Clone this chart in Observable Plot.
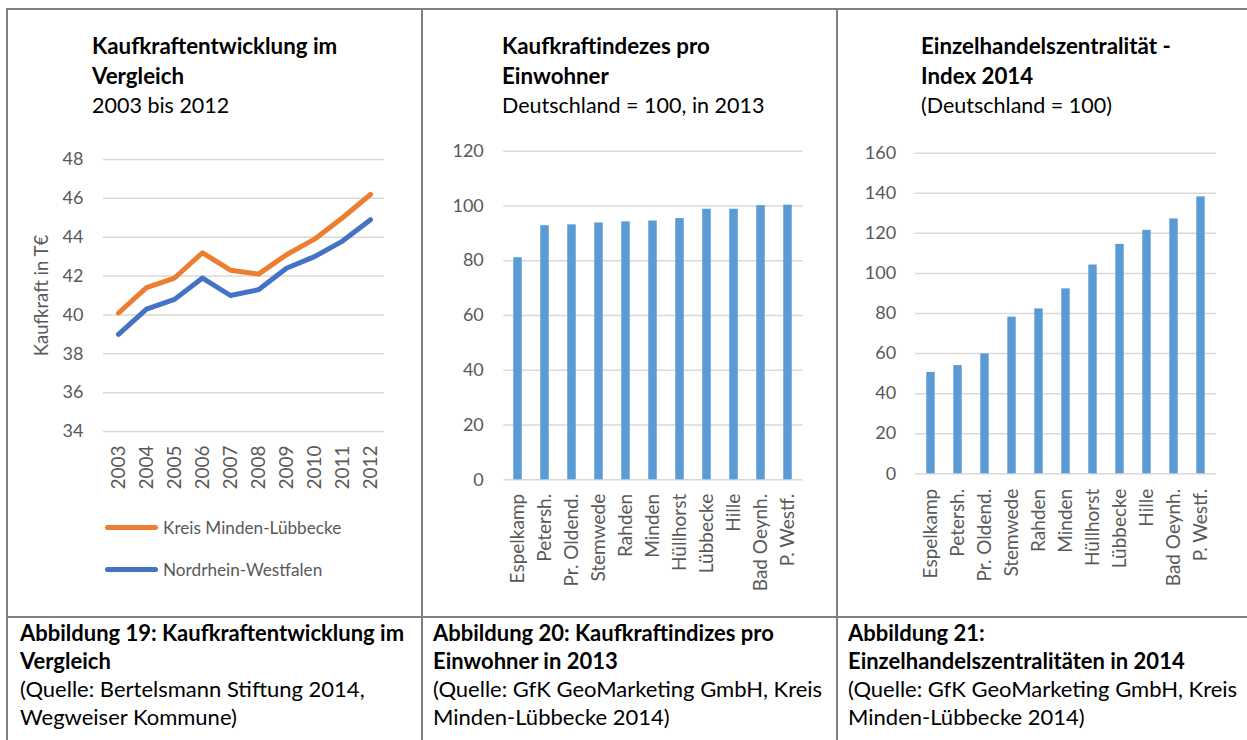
<!DOCTYPE html>
<html><head><meta charset="utf-8">
<script src="https://cdn.jsdelivr.net/npm/d3@7"></script>
<script src="https://cdn.jsdelivr.net/npm/@observablehq/plot@0.6"></script>
<style>
body{margin:0;background:#fff;font-family:Lato,"Open Sans",sans-serif;}
#page{position:relative;width:1247px;height:740px;overflow:hidden;background:#fff;}
.ln{position:absolute;background:#7f7f7f;}
.title{position:absolute;font-size:21.5px;line-height:29px;color:#000;white-space:nowrap;}
.title b{font-weight:700;font-size:22.3px;}
.cap{position:absolute;font-size:22px;line-height:28px;color:#000;white-space:nowrap;}
.cap b{font-weight:700;}
.chart{position:absolute;}
.leg{position:absolute;font-size:17.2px;color:#595959;display:flex;align-items:center;height:20px;white-space:nowrap;}
.sw{width:53px;height:5px;border-radius:3px;margin-right:5px;}
</style></head>
<body><div id="page">
<div class="ln" style="left:6px;top:8px;width:1241px;height:2px"></div>
<div class="ln" style="left:6px;top:8px;width:2px;height:732px"></div>
<div class="ln" style="left:421px;top:8px;width:2px;height:732px"></div>
<div class="ln" style="left:836px;top:8px;width:2px;height:732px"></div>
<div class="ln" style="left:6px;top:616px;width:1241px;height:2px"></div>

<div class="title" style="left:92px;top:31px"><b>Kaufkraftentwicklung im<br>Vergleich</b><br>2003 bis 2012</div>
<div class="title" style="left:502px;top:31px"><b>Kaufkraftindezes pro<br>Einwohner</b><br>Deutschland = 100, in 2013</div>
<div class="title" style="left:921px;top:31px"><b>Einzelhandelszentralität -<br>Index 2014</b><br>(Deutschland = 100)</div>

<div class="chart" id="c1" style="left:8px;top:140px"></div>
<div class="chart" id="c2" style="left:423px;top:130px"></div>
<div class="chart" id="c3" style="left:838px;top:130px"></div>

<div class="leg" style="left:105px;top:517px"><div class="sw" style="background:#ED7D31"></div>Kreis Minden-Lübbecke</div>
<div class="leg" style="left:105px;top:559px"><div class="sw" style="background:#4472C4"></div>Nordrhein-Westfalen</div>

<div class="cap" style="left:20px;top:619px"><b>Abbildung 19: Kaufkraftentwicklung im<br>Vergleich</b><br>(Quelle: Bertelsmann Stiftung 2014,<br>Wegweiser Kommune)</div>
<div class="cap" style="left:433px;top:619px"><b>Abbildung 20: Kaufkraftindizes pro<br>Einwohner in 2013</b><br>(Quelle: GfK GeoMarketing GmbH, Kreis<br>Minden-Lübbecke 2014)</div>
<div class="cap" style="left:848px;top:619px"><b>Abbildung 21:<br>Einzelhandelszentralitäten in 2014</b><br>(Quelle: GfK GeoMarketing GmbH, Kreis<br>Minden-Lübbecke 2014)</div>
</div>
<script>
const years = ["2003","2004","2005","2006","2007","2008","2009","2010","2011","2012"];
const seriesNames = ["Kreis Minden-Lübbecke","Nordrhein-Westfalen"];
const kreis = [40.1,41.4,41.9,43.2,42.3,42.1,43.1,43.9,45.0,46.2];
const nrw = [39.0,40.3,40.8,41.9,41.0,41.3,42.4,43.0,43.8,44.9];
const ticks1 = [34,36,38,40,42,44,46,48];

const orte = ["Espelkamp","Petersh.","Pr. Oldend.","Stemwede","Rahden","Minden","Hüllhorst","Lübbecke","Hille","Bad Oeynh.","P. Westf."];
const kaufkraftIndex = [81.1,92.8,93.1,93.8,94.2,94.5,95.4,98.8,98.8,100.1,100.3];
const ticks2 = [0,20,40,60,80,100,120];

const zentralitaet = [50.6,54.0,59.8,78.2,82.3,92.3,104.2,114.5,121.5,127.2,138.2];
const ticks3 = [0,20,40,60,80,100,120,140,160];

const gridColor = "#d9d9d9";
const textColor = "#595959";
const font = "Lato, 'Open Sans', sans-serif";

const lineData = years.flatMap((y,i)=>[
  {year:y, value:kreis[i], series:seriesNames[0]},
  {year:y, value:nrw[i], series:seriesNames[1]}
]);

const c1 = Plot.plot({
  width:415, height:360, marginLeft:95, marginRight:39, marginTop:19, marginBottom:69,
  style:{fontFamily:font, fontSize:"18px", color:textColor, background:"transparent", overflow:"visible"},
  x:{type:"point", domain:years, padding:0.5, label:null},
  y:{domain:[34,48], label:null},
  color:{domain:seriesNames, range:["#ED7D31","#4472C4"]},
  marks:[
    Plot.gridY(ticks1,{stroke:gridColor, strokeOpacity:1, strokeWidth:1.5}),
    Plot.axisY(ticks1,{tickSize:0, tickPadding:20, label:null, fontSize:18}),
    Plot.axisX({tickSize:0, tickPadding:14, tickRotate:-90, label:null, fontSize:19}),
    Plot.line(lineData,{x:"year", y:"value", stroke:"series", z:"series", strokeWidth:5, strokeLinecap:"round", strokeLinejoin:"round"}),
    Plot.text(["Kaufkraft in T€"],{text:d=>d, frameAnchor:"left", textAnchor:"middle", dx:-61, rotate:-90, fill:textColor, fontSize:18.5})
  ]
});
document.getElementById("c1").appendChild(c1);

function barChart(values, ticks, opts){
  const data = orte.map((o,i)=>({ort:o, value:values[i]}));
  return Plot.plot({
    width:opts.width, height:460, marginLeft:opts.ml, marginRight:opts.mr, marginTop:opts.mt, marginBottom:opts.mb,
    style:{fontFamily:font, fontSize:"18px", color:textColor, background:"transparent", overflow:"visible"},
    x:{type:"band", domain:orte, padding:0, label:null},
    y:{domain:[ticks[0], ticks[ticks.length-1]], label:null},
    marks:[
      Plot.gridY(ticks,{stroke:gridColor, strokeOpacity:1, strokeWidth:1.5}),
      Plot.axisY(ticks,{tickSize:0, tickPadding:opts.tp, label:null, fontSize:18}),
      Plot.axisX({tickSize:0, tickPadding:opts.xp, tickRotate:-90, label:null, fontSize:19}),
      Plot.barY(data,{x:"ort", y:"value", fill:"#5B9BD5", insetLeft:opts.inset, insetRight:opts.inset})
    ]
  });
}
document.getElementById("c2").appendChild(barChart(kaufkraftIndex, ticks2, {width:415, ml:80.3, mr:35.3, mt:20.7, mb:110.7, tp:20, xp:14, inset:9.25}));
document.getElementById("c3").appendChild(barChart(zentralitaet, ticks3, {width:409, ml:77, mr:31.3, mt:22.7, mb:116.7, tp:19.3, xp:15, inset:9.3}));
</script>
</body></html>
